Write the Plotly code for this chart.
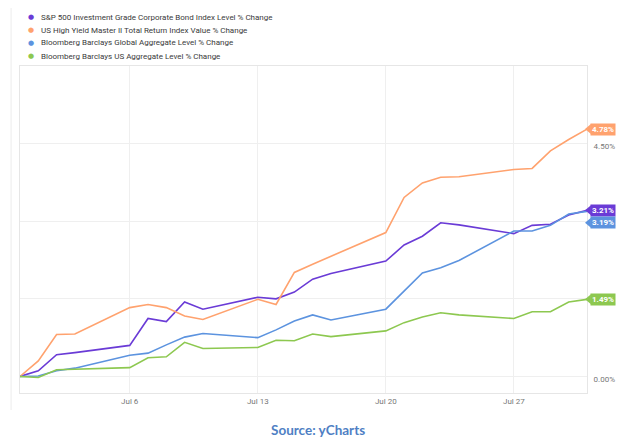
import plotly.graph_objects as go

dates = ["2020-06-30", "2020-07-01", "2020-07-02", "2020-07-03", "2020-07-06", "2020-07-07",
         "2020-07-08", "2020-07-09", "2020-07-10", "2020-07-13", "2020-07-14", "2020-07-15",
         "2020-07-16", "2020-07-17", "2020-07-20", "2020-07-21", "2020-07-22", "2020-07-23",
         "2020-07-24", "2020-07-27", "2020-07-28", "2020-07-29", "2020-07-30", "2020-07-31"]

sp500_ig = [0, 0.11, 0.42, 0.46, 0.60, 1.12, 1.06, 1.44, 1.30, 1.53, 1.50, 1.63, 1.88, 1.99,
            2.23, 2.54, 2.71, 2.97, 2.93, 2.76, 2.92, 2.94, 3.12, 3.21]
us_high_yield = [0, 0.30, 0.81, 0.82, 1.33, 1.39, 1.33, 1.17, 1.10, 1.49, 1.39, 2.01, 2.17, 2.32,
                 2.78, 3.46, 3.74, 3.85, 3.86, 4.00, 4.02, 4.36, 4.58, 4.78]
bb_global = [0, 0.01, 0.11, 0.16, 0.41, 0.45, 0.61, 0.76, 0.83, 0.75, 0.90, 1.07, 1.19, 1.09,
             1.30, 1.65, 2.00, 2.10, 2.24, 2.81, 2.81, 2.92, 3.14, 3.19]
bb_us = [0, -0.02, 0.13, 0.14, 0.17, 0.36, 0.38, 0.66, 0.54, 0.56, 0.70, 0.69, 0.82, 0.77,
         0.88, 1.04, 1.15, 1.23, 1.19, 1.12, 1.25, 1.25, 1.44, 1.49]

names = ["S&P 500 Investment Grade Corporate Bond Index Level % Change",
         "US High Yield Master II Total Return Index Value % Change",
         "Bloomberg Barclays Global Aggregate Level % Change",
         "Bloomberg Barclays US Aggregate Level % Change"]
series = [sp500_ig, us_high_yield, bb_global, bb_us]
colors = ["#6a3bd6", "#ffa26e", "#5c93df", "#8dc850"]
tag_y = [3.21, 4.78, 2.97, 1.49]  # label placement (blue nudged down to avoid overlap)

ytick_vals = [0, 1.5, 3.0, 4.5, 6.0]
ytick_text = ["0.00%", "1.50%", "3.00%", "4.50%", ""]

fig = go.Figure()
for name, vals, col in zip(names, series, colors):
    fig.add_trace(go.Scatter(x=dates, y=vals, mode="lines", name=name,
                             line=dict(color=col, width=1.6), showlegend=False))

OFF = 8  # page body margin
W, H = 626 - OFF, 438 - OFF
ml, mt = 19 - OFF, 66 - OFF
plot_right, plot_bottom = 592 - OFF, 393 - OFF
mr, mb = W - plot_right, H - plot_bottom
pw, ph = plot_right - ml, plot_bottom - mt
yr = [-0.32, 6.0]

def px_x(p):
    return (p - OFF - ml) / pw

def px_y(p):
    return (plot_bottom - (p - OFF)) / ph

annotations = []
shapes = []
# legend
for i, (name, col) in enumerate(zip(names, colors)):
    yy = 17 + 13 * i
    annotations.append(dict(xref="paper", yref="paper", x=px_x(30), y=px_y(yy),
                            text="●", showarrow=False, xanchor="center", yanchor="middle",
                            font=dict(color=col, size=7, family="DejaVu Sans")))
    annotations.append(dict(xref="paper", yref="paper", x=px_x(38), y=px_y(yy),
                            text=name, showarrow=False, xanchor="left", yanchor="middle",
                            font=dict(color="#3a3a3a", size=8, family="Roboto")))

# end-value tags
half = 5.0 / (ph / (yr[1] - yr[0]))
for vals, col, ty in zip(series, colors, tag_y):
    annotations.append(dict(xref="paper", yref="y", x=px_x(595), y=ty,
                            text="<b>%.2f%%</b>" % vals[-1], showarrow=False,
                            xanchor="left", yanchor="middle", bgcolor=col, borderpad=1,
                            font=dict(color="white", size=8, family="Roboto")))
    shapes.append(dict(type="path", xref="paper", yref="y",
                       path="M %f,%f L %f,%f L %f,%f Z" % (px_x(590), ty, px_x(596), ty + half,
                                                           px_x(596), ty - half),
                       fillcolor=col, line=dict(width=0)))

# source
annotations.append(dict(xref="paper", yref="paper", x=px_x(320), y=px_y(430),
                        text="<b>Source: yCharts</b>", showarrow=False,
                        xanchor="center", yanchor="middle",
                        font=dict(color="#4f7fc4", size=13.5, family="Lato")))

# card edge
shapes.append(dict(type="line", xref="paper", yref="paper", x0=px_x(10), x1=px_x(10),
                   y0=px_y(8), y1=px_y(410), line=dict(color="#ececec", width=1)))

fig.update_layout(
    width=W, height=H, margin=dict(l=ml, r=mr, t=mt, b=mb),
    plot_bgcolor="white", paper_bgcolor="white",
    annotations=annotations, shapes=shapes,
    xaxis=dict(type="date", range=["2020-06-30", "2020-07-31"],
               tickvals=["2020-07-06", "2020-07-13", "2020-07-20", "2020-07-27"],
               ticktext=["Jul 6", "Jul 13", "Jul 20", "Jul 27"],
               showgrid=True, gridcolor="#efefef", gridwidth=1,
               showline=True, linecolor="#e6e6e6", mirror=True, ticks="",
               tickfont=dict(color="#777777", size=8, family="Roboto"), zeroline=False),
    yaxis=dict(range=yr, side="right", tickvals=ytick_vals, ticktext=ytick_text,
               showgrid=True, gridcolor="#efefef", gridwidth=1,
               showline=True, linecolor="#e6e6e6", mirror=True, ticks="",
               ticklabelshift=3, ticklabelstandoff=4,
               tickfont=dict(color="#777777", size=8, family="Roboto"), zeroline=False),
    font=dict(family="Roboto"),
)

fig.write_html("out.html")
